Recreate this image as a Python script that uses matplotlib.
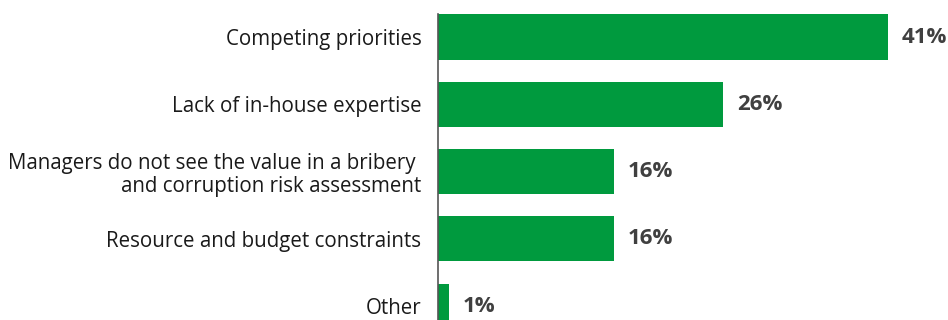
import matplotlib
matplotlib.use('Agg')
import matplotlib.pyplot as plt

GREEN = '#009a3e'
TEXT = '#1a1a1a'
VALUE = '#404040'

categories = [
    'Competing priorities',
    'Lack of in-house expertise',
    'Managers do not see the value in a bribery \nand corruption risk assessment',
    'Resource and budget constraints',
    'Other',
]
values = [41, 26, 16, 16, 1]

plt.rcParams['font.family'] = ['Open Sans', 'DejaVu Sans']

fig = plt.figure(figsize=(9.48, 3.2), dpi=100)
ax = fig.add_axes([438 / 948, 0, 510 / 948, 1])

pos = list(range(len(categories)))
bar_h = 0.67
ax.barh(pos, values, height=bar_h, color=GREEN, zorder=2)

for y, v in zip(pos, values):
    ax.annotate(f'{v}%', xy=(v, y), xytext=(10, 0), textcoords='offset points',
                ha='left', va='center', fontsize=16, fontweight='bold',
                color=VALUE)

ax.set_xlim(0, 41 * 510 / 450)
ax.set_ylim(4.205, -0.55)

ax.set_yticks(pos)
ax.set_yticklabels(categories, fontsize=14.8, color=TEXT, ha='right',
                   linespacing=1.1)
ax.tick_params(axis='y', length=0, pad=12)
ax.set_xticks([])

for s in ('top', 'right', 'bottom'):
    ax.spines[s].set_visible(False)
ax.spines['left'].set_color('#555555')
ax.spines['left'].set_linewidth(1.2)
ax.spines['left'].set_bounds(-bar_h / 2, 4.3)
ax.spines['left'].set_zorder(3)

fig.savefig('out.png', dpi=100)
